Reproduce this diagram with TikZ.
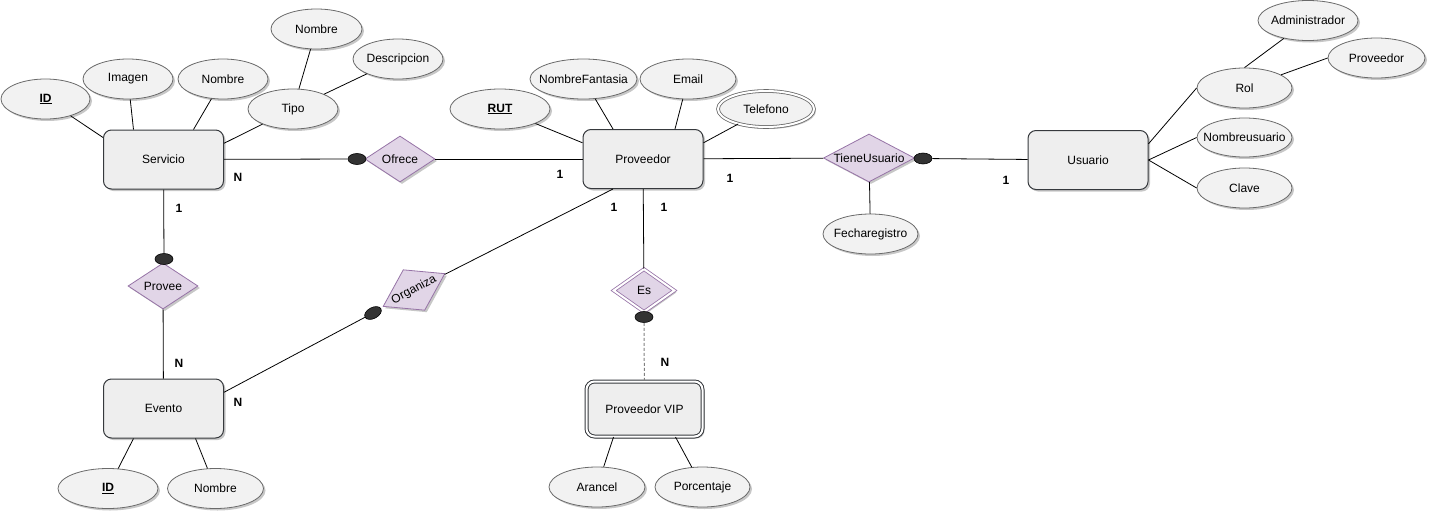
\documentclass[tikz,border=0pt]{standalone}
\usepackage{fontspec}
\setmainfont{Liberation Sans}
\usetikzlibrary{shapes.geometric,shadows,calc}
\definecolor{entfill}{HTML}{EEEEEE}
\definecolor{entline}{HTML}{36393D}
\definecolor{attfill}{HTML}{F2F2F2}
\definecolor{attline}{HTML}{6A6A6A}
\definecolor{relfill}{HTML}{E1D5E7}
\definecolor{relline}{HTML}{9673A6}
\definecolor{dotfill}{HTML}{333333}
\definecolor{dashcol}{HTML}{808080}
\newcommand{\mb}[1]{\makebox[0pt]{#1}}
\begin{document}
\begin{tikzpicture}[x=1pt,y=-1pt,
  every node/.style={font=\fontsize{12}{14}\selectfont},
  shd/.style={drop shadow={shadow xshift=2pt,shadow yshift=-2pt,opacity=0.22,fill=black}},
  entity/.style={rectangle, rounded corners=8pt, draw=entline, fill=entfill, line width=1pt, minimum width=120pt, minimum height=59pt, inner sep=0pt, shd},
  attr/.style={ellipse, draw=attline, fill=attfill, line width=0.8pt, minimum width=90pt, minimum height=40pt, inner sep=0pt, shd},
  rel/.style={diamond, draw=relline, fill=relfill, line width=0.8pt, minimum width=70pt, minimum height=46pt, inner sep=0pt, aspect=1.5, shd},
  dotn/.style={ellipse, draw=black, fill=dotfill, minimum width=18pt, minimum height=11pt, inner sep=0pt, line width=0.6pt},
  card/.style={font=\fontsize{12}{14}\selectfont\bfseries, inner sep=0pt},
  conn/.style={draw=black, line width=0.8pt},
  dashline/.style={draw=dashcol, line width=1pt, dash pattern=on 3pt off 2pt}
]
\useasboundingbox (0,0) rectangle (1430,517);

% entities
\node[entity] (srv) at (163.5,159.5) {Servicio};
\node[entity] (prov) at (643,159) {Proveedor};
\node[entity] (usr) at (1088,160) {Usuario};
\node[entity] (ev) at (163.5,408.5) {Evento};
\node[entity, minimum width=116pt, minimum height=55pt, double=white, double distance=2pt] (vip) at (644.5,409) {Proveedor VIP};

% attributes
\node[attr, minimum width=89pt] (sid) at (45.5,99) {\mb{\underline{\textbf{ID}}}};
\node[attr] (simg) at (128,79) {\mb{Imagen}};
\node[attr] (snom) at (223,79) {\mb{Nombre}};
\node[attr] (stipo) at (293,109) {\mb{Tipo}};
\node[attr, minimum width=91pt] (tnom) at (316.5,29) {\mb{Nombre}};
\node[attr] (tdesc) at (398,59) {\mb{Descripcion}};
\node[attr, minimum width=100pt] (rut) at (500,109) {\mb{\underline{\textbf{RUT}}}};
\node[attr, minimum width=107pt] (nfan) at (583.5,79) {\mb{NombreFantasia}};
\node[attr, minimum width=96pt] (email) at (688,79) {\mb{Email}};
\node[attr, minimum width=96pt, minimum height=36pt, double=white, double distance=2pt] (tel) at (766,109) {\mb{Telefono}};
\node[attr, minimum width=95pt] (fech) at (870.5,234) {\mb{Fecharegistro}};
\node[attr, minimum width=95pt] (rol) at (1244.5,88) {\mb{Rol}};
\node[attr, minimum width=100pt] (adm) at (1308,20.5) {\mb{Administrador}};
\node[attr, minimum width=97pt] (prv2) at (1376.5,58) {\mb{Proveedor}};
\node[attr, minimum width=95pt, minimum height=39pt] (nusr) at (1244.5,137.5) {\mb{Nombreusuario}};
\node[attr, minimum width=95pt] (clave) at (1244.5,188) {\mb{Clave}};
\node[attr, minimum width=96pt] (ara) at (597,487) {\mb{Arancel}};
\node[attr, minimum width=95pt] (por) at (702.5,487) {\mb{Porcentaje}};
\node[attr, minimum width=100pt] (eid) at (108,488.5) {\mb{\underline{\textbf{ID}}}};
\node[attr, minimum width=96pt] (enom) at (215.5,488.5) {\mb{Nombre}};

% relationships
\node[rel] (ofr) at (400,159) {Ofrece};
\node[rel, aspect=1.9, minimum width=91pt, minimum height=48pt] (tu) at (869,158) {TieneUsuario};
\node[rel] (prv) at (163,286) {Provee};
\node[rel, minimum width=61pt, minimum height=43pt, double=white, double distance=2pt] (es) at (644,290.5) {Es};
\node[rel, rotate=28] (org) at (414,290) {Organiza};

% participation dots
\node[dotn] (d1) at (357,159) {};
\node[dotn] (d2) at (164,259) {};
\node[dotn] (d3) at (923,158.5) {};
\node[dotn] (d4) at (644,317) {};
\node[dotn, rotate=28] (d5) at (373,313) {};

% connectors
\draw[conn] (sid) -- (srv.160);
\draw[conn] (simg) -- ($(srv.north)+(-30,0)$);
\draw[conn] (snom) -- ($(srv.north)+(30,0)$);
\draw[conn] (stipo) -- (srv.15);
\draw[conn] (stipo) -- (tnom);
\draw[conn] (stipo) -- (tdesc);
\draw[conn] (srv) -- (d1);
\draw[conn] (ofr) -- (prov);
\draw[conn] (rut) -- (prov.165);
\draw[conn] (nfan) -- ($(prov.north)+(-30,0)$);
\draw[conn] (email) -- ($(prov.north)+(32,0)$);
\draw[conn] (tel) -- (prov.15);
\draw[conn] (prov) -- (tu);
\draw[conn] (d3) -- (usr);
\draw[conn] (tu) -- (fech);
\draw[conn] (usr.15) -- (rol.west);
\draw[conn] (usr.east) -- (nusr.west);
\draw[conn] (usr.east) -- (clave.west);
\draw[conn] (rol.north) -- (adm);
\draw[conn] (rol) -- (prv2.west);
\draw[conn] (srv) -- (d2);
\draw[conn] (prv) -- (ev);
\draw[conn] (ev.15) -- (d5);
\draw[conn] (org) -- ($(prov.south)+(-30,0)$);
\draw[conn] (prov) -- (es);
\draw[dashline] (d4) -- (vip);
\draw[conn] ($(vip.south)+(-31,0)$) -- (ara);
\draw[conn] ($(vip.south)+(31,0)$) -- (por);
\draw[conn] ($(ev.south)+(-30,0)$) -- (eid);
\draw[conn] ($(ev.south)+(32,0)$) -- (enom);

% cardinalities
\node[card] (c1) at (238,177) {N};
\node[card] (c2) at (560,174) {1};
\node[card] (c3) at (730,178) {1};
\node[card] (c4) at (1006,180) {1};
\node[card] (c5) at (179,208) {1};
\node[card] (c6) at (179,363) {N};
\node[card] (c7) at (238,402) {N};
\node[card] (c8) at (614,207) {1};
\node[card] (c9) at (664,207) {1};
\node[card] (c10) at (665,362) {N};
\end{tikzpicture}
\end{document}
